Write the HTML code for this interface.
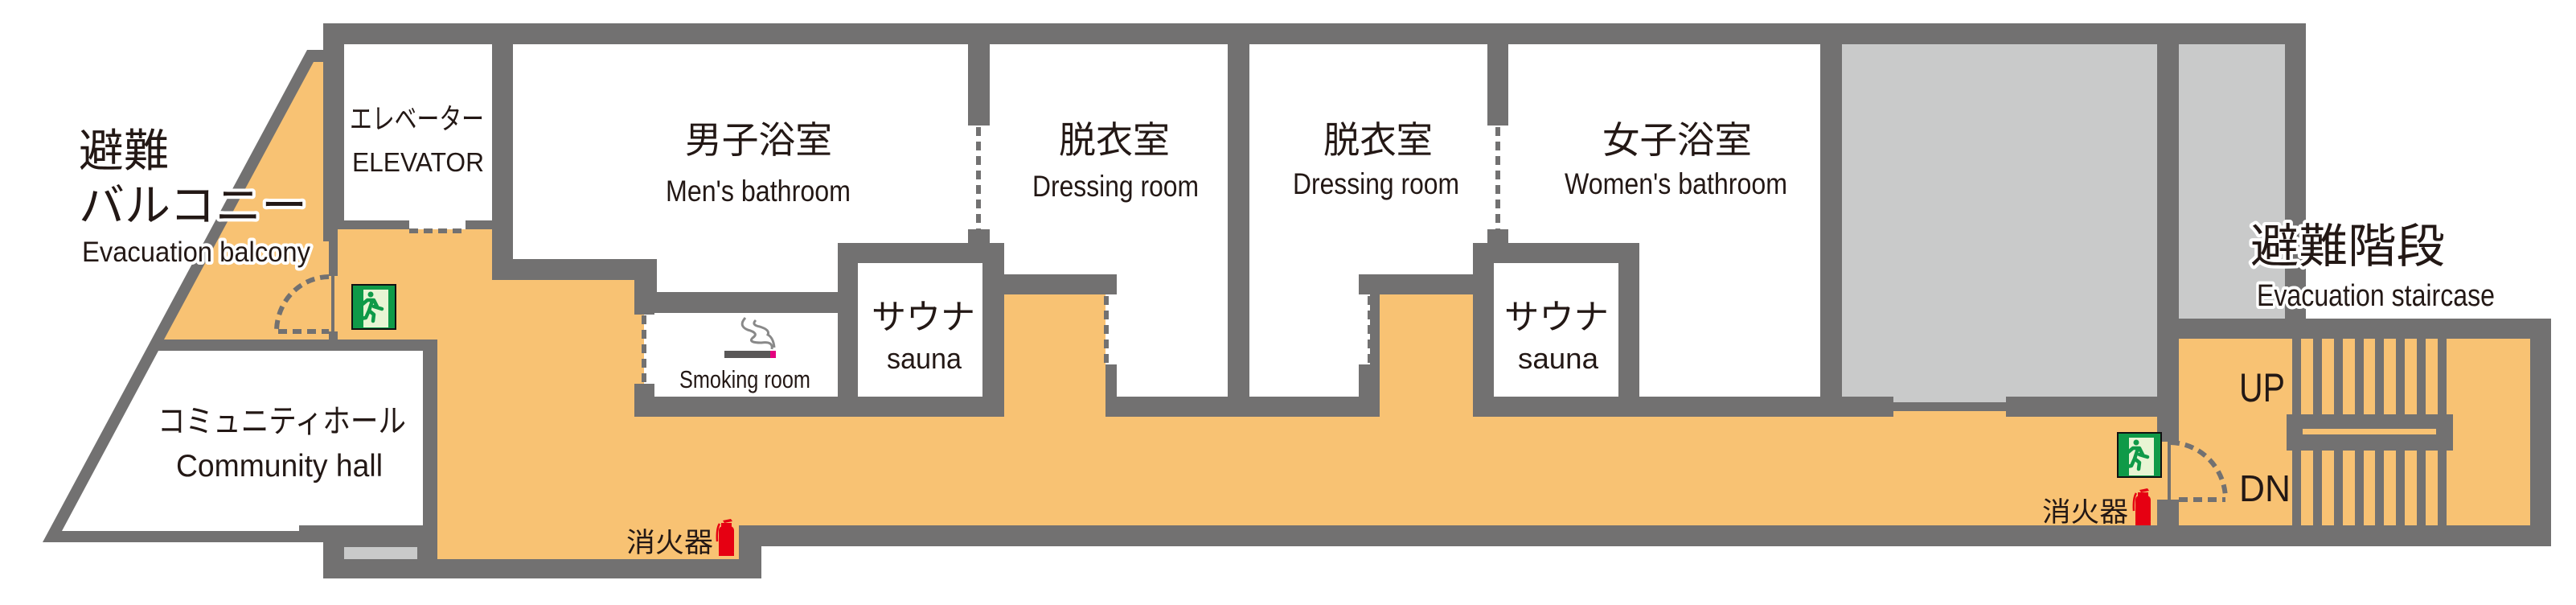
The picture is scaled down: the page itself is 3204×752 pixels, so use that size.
<!DOCTYPE html>
<html><head><meta charset="utf-8"><style>
html,body{margin:0;padding:0;background:#fff;}
svg{display:block;}
.j{font-family:"Liberation Sans","Noto Sans CJK JP",sans-serif;fill:#231815;}
.e{font-family:"Liberation Sans",sans-serif;fill:#231815;}
.h{stroke:#fff;stroke-width:8;paint-order:stroke;stroke-linejoin:round;}
</style></head><body>
<svg width="3204" height="752" viewBox="0 0 3204 752" xmlns="http://www.w3.org/2000/svg">
<defs>
<g id="exit">
<rect x="0" y="0" width="56" height="57" fill="#111"/>
<rect x="2" y="2" width="52" height="53" fill="#0f9a48"/>
<rect x="15" y="7" width="31" height="47" fill="#e8f5d4"/>
<circle cx="24" cy="13" r="3.5" fill="#0f9a48"/>
<path d="M14 25 L20 20 L28 20 L32 28 M26 21 L22 33 L28 38 L27 46 M22 33 L18 42 L12 43 M28 28 L38 31" stroke="#0f9a48" stroke-width="4.5" fill="none" stroke-linecap="round" stroke-linejoin="round"/>
</g>
<g id="ext">
<path d="M10 4 L20 2 L22 5 L12 7 Z" fill="#e60012"/>
<path d="M6 8 Q2 14 3 30" stroke="#e60012" stroke-width="2.5" fill="none"/>
<rect x="8" y="7" width="13" height="5" fill="#e60012"/>
<rect x="5" y="11" width="19" height="37" rx="5" fill="#e60012"/>
<rect x="5" y="44" width="19" height="4" fill="#e60012"/>
</g>
</defs>
<g fill="#727171">
<polygon points="402,29 2868,29 2868,396 3173,396 3173,679 947,679 947,719 402,719"/>
<polygon points="382,62 428,62 428,674 53,674"/>
</g>
<!-- balcony -->
<polygon points="390,77 402,77 402,300 409,300 409,422 204,422" fill="#f8c273"/>
<!-- hall -->
<polygon points="197,436 526,436 526,653 372,653 372,660 77,660" fill="#fff"/>
<!-- light gray block -->
<rect x="428" y="680" width="91" height="15" fill="#c9caca"/>
<!-- orange corridors -->
<g fill="#f8c273">
<rect x="420" y="285" width="192" height="63"/>
<rect x="509" y="285" width="70" height="20"/>
<rect x="420" y="348" width="369" height="74"/>
<rect x="544" y="422" width="245" height="100"/>
<rect x="789" y="391" width="12" height="86"/>
<rect x="544" y="518" width="2139" height="135"/>
<rect x="544" y="650" width="375" height="45"/>
<rect x="1249" y="366" width="126" height="155"/>
<rect x="1716" y="366" width="116" height="155"/>
<rect x="2355" y="511" width="140" height="10"/>
<rect x="2683" y="549" width="27" height="72"/>
<rect x="2710" y="421" width="437" height="232"/>
<rect x="409" y="343" width="12" height="69"/>
</g>
<g fill="#fff">
<rect x="428" y="55" width="184" height="219"/>
<rect x="509" y="272" width="70" height="13"/>
<polygon points="638,55 1204,55 1204,302 1042,302 1042,363 817,363 817,322 638,322"/>
<rect x="814" y="389" width="228" height="104"/>
<rect x="801" y="391" width="14" height="86"/>
<rect x="1202" y="156" width="31" height="129"/>
<rect x="1067" y="327" width="155" height="166"/>
<polygon points="1231,55 1527,55 1527,493 1389,493 1389,341 1249,341 1249,302 1231,302"/>
<rect x="1375" y="366" width="16" height="87"/>
<polygon points="1554,55 1850,55 1850,302 1832,302 1832,341 1690,341 1690,493 1554,493"/>
<rect x="1688" y="366" width="16" height="87"/>
<rect x="1848" y="156" width="30" height="129"/>
<rect x="1858" y="327" width="155" height="166"/>
<polygon points="1876,55 2264,55 2264,493 2039,493 2039,302 1876,302"/>
</g>
<g fill="#c9caca">
<rect x="2291" y="55" width="392" height="438"/>
<rect x="2355" y="490" width="140" height="10"/>
<rect x="2710" y="55" width="132" height="341"/>
</g>
<!-- dashed doors -->
<g stroke="#727171" stroke-width="6" fill="none" stroke-dasharray="11 7">
<line x1="509" y1="287" x2="579" y2="287"/>
<line x1="801" y1="392" x2="801" y2="476"/>
<line x1="1217" y1="158" x2="1217" y2="285"/>
<line x1="1863" y1="158" x2="1863" y2="285"/>
<line x1="1376" y1="368" x2="1376" y2="453"/>
<line x1="1704" y1="368" x2="1704" y2="453"/>
<path d="M409 344 A66 68 0 0 0 344 412"/>
<line x1="346" y1="412" x2="409" y2="412"/>
<path d="M2700 550 A70 71 0 0 1 2768 618"/>
<line x1="2710" y1="621" x2="2768" y2="621"/>
</g>
<line x1="414" y1="343" x2="414" y2="412" stroke="#727171" stroke-width="4"/>
<line x1="2698" y1="549" x2="2698" y2="621" stroke="#727171" stroke-width="4"/>
<!-- stairs -->
<g fill="#727171">
<rect x="2851" y="421" width="11" height="232"/>
<rect x="2877" y="421" width="11" height="232"/>
<rect x="2903" y="421" width="11" height="232"/>
<rect x="2929" y="421" width="11" height="232"/>
<rect x="2954" y="421" width="11" height="232"/>
<rect x="2980" y="421" width="11" height="232"/>
<rect x="3006" y="421" width="11" height="232"/>
<rect x="3032" y="421" width="11" height="232"/>
<rect x="2844" y="515" width="207" height="45"/>
</g>
<rect x="2864" y="533" width="166" height="7" fill="#f8c273"/>
<!-- signs -->
<use href="#exit" x="437" y="353"/>
<use href="#exit" x="2633" y="537"/>
<use href="#ext" x="889" y="643"/>
<use href="#ext" x="2651" y="605"/>
<!-- cigarette -->
<rect x="901" y="436" width="57" height="9" fill="#595757"/>
<rect x="958" y="436" width="7" height="9" fill="#e4007f"/>
<path d="M927 395 Q918 405 930 410 Q945 414 936 420 Q930 426 947 426 Q962 424 960 434 M940 398 Q934 404 945 406 Q958 410 955 416 Q962 420 963 432" stroke="#898989" stroke-width="3" fill="none"/>
<!-- text -->
<text class="j" x="98" y="207" font-size="56" textLength="112" lengthAdjust="spacingAndGlyphs">避難</text>
<text class="j h" x="98" y="275" font-size="56" textLength="284" lengthAdjust="spacingAndGlyphs">バルコニー</text>
<text class="e h" x="102" y="325" font-size="35" textLength="284" lengthAdjust="spacingAndGlyphs">Evacuation balcony</text>
<text class="j" x="435" y="160" font-size="36" textLength="167" lengthAdjust="spacingAndGlyphs">エレベーター</text>
<text class="e" x="438" y="213" font-size="33" textLength="164" lengthAdjust="spacingAndGlyphs">ELEVATOR</text>
<text class="j" x="852" y="190" font-size="46" textLength="183" lengthAdjust="spacingAndGlyphs">男子浴室</text>
<text class="e" x="828" y="250" font-size="37" textLength="230" lengthAdjust="spacingAndGlyphs">Men's bathroom</text>
<text class="e" x="845" y="482" font-size="31" textLength="163" lengthAdjust="spacingAndGlyphs">Smoking room</text>
<text class="j" x="196" y="537" font-size="40" textLength="309" lengthAdjust="spacingAndGlyphs">コミュニティホール</text>
<text class="e" x="219" y="592" font-size="39" textLength="257" lengthAdjust="spacingAndGlyphs">Community hall</text>
<text class="j" x="1317" y="190" font-size="46" textLength="138" lengthAdjust="spacingAndGlyphs">脱衣室</text>
<text class="e" x="1284" y="244" font-size="37" textLength="207" lengthAdjust="spacingAndGlyphs">Dressing room</text>
<text class="j" x="1646" y="190" font-size="46" textLength="136" lengthAdjust="spacingAndGlyphs">脱衣室</text>
<text class="e" x="1608" y="241" font-size="37" textLength="207" lengthAdjust="spacingAndGlyphs">Dressing room</text>
<text class="j" x="1993" y="190" font-size="46" textLength="186" lengthAdjust="spacingAndGlyphs">女子浴室</text>
<text class="e" x="1946" y="241" font-size="37" textLength="277" lengthAdjust="spacingAndGlyphs">Women's bathroom</text>
<text class="j" x="1084" y="409" font-size="43" textLength="129" lengthAdjust="spacingAndGlyphs">サウナ</text>
<text class="e" x="1103" y="458" font-size="36" textLength="93" lengthAdjust="spacingAndGlyphs">sauna</text>
<text class="j" x="1871" y="409" font-size="43" textLength="130" lengthAdjust="spacingAndGlyphs">サウナ</text>
<text class="e" x="1888" y="458" font-size="36" textLength="100" lengthAdjust="spacingAndGlyphs">sauna</text>
<text class="j" x="779" y="686" font-size="34" textLength="108" lengthAdjust="spacingAndGlyphs">消火器</text>
<text class="j" x="2540" y="648" font-size="34" textLength="107" lengthAdjust="spacingAndGlyphs">消火器</text>
<text class="j h" x="2799" y="326" font-size="58" textLength="242" lengthAdjust="spacingAndGlyphs">避難階段</text>
<text class="e h" x="2807" y="380" font-size="38" textLength="296" lengthAdjust="spacingAndGlyphs">Evacuation staircase</text>
<text class="e" x="2785" y="499" font-size="50" textLength="57" lengthAdjust="spacingAndGlyphs">UP</text>
<text class="e" x="2785" y="623" font-size="46" textLength="64" lengthAdjust="spacingAndGlyphs">DN</text>
</svg>
</body></html>
